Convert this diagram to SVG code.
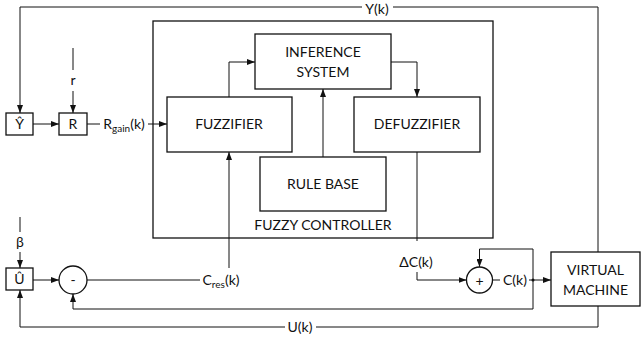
<svg xmlns="http://www.w3.org/2000/svg" width="642" height="339" viewBox="0 0 642 339">
<style>
text{font-family:Lato,"Liberation Sans",sans-serif;font-size:14px;fill:#111;text-anchor:middle}
.box{fill:#fff;stroke:#111;stroke-width:1.3}
.ln{fill:none;stroke:#111;stroke-width:1}
.ar{fill:none;stroke:#111;stroke-width:1;marker-end:url(#ah)}
.sub{font-size:10px}
</style>
<defs>
<marker id="ah" viewBox="0 0 8 6" refX="8" refY="3" markerWidth="8" markerHeight="6" markerUnits="userSpaceOnUse" orient="auto">
<path d="M0,0L8,3L0,6z" fill="#111"/>
</marker>
</defs>
<rect width="642" height="339" fill="#fff"/>
<g id="fuzzy-controller"><rect class="box" x="153" y="21" width="340" height="217" stroke-width="1.5"/><text x="323" y="230">FUZZY CONTROLLER</text></g>
<g id="fuzzifier"><rect class="box" x="167" y="97" width="125" height="55"/><text x="229" y="129">FUZZIFIER</text></g>
<g id="inference"><rect class="box" x="255" y="34" width="136" height="55"/><text x="323" y="57">INFERENCE</text><text x="323" y="77">SYSTEM</text></g>
<g id="defuzzifier"><rect class="box" x="354" y="97" width="126" height="55"/><text x="417" y="129">DEFUZZIFIER</text></g>
<g id="rulebase"><rect class="box" x="260" y="157" width="126" height="54"/><text x="323" y="189">RULE BASE</text></g>
<g id="yhat"><rect class="box" x="6" y="113" width="27" height="22"/><text x="19.5" y="129">Ŷ</text></g>
<g id="r-box"><rect class="box" x="59" y="113" width="28" height="22"/><text x="73" y="129">R</text></g>
<g id="uhat"><rect class="box" x="6" y="268" width="27" height="22"/><text x="19.5" y="284">Û</text></g>
<g id="minus"><circle class="box" cx="73" cy="280" r="14"/><text x="73" y="285" font-size="16">-</text></g>
<g id="plus"><circle class="box" cx="479.5" cy="280" r="13"/><text x="479.5" y="286" font-size="19">+</text></g>
<g id="vm"><rect class="box" x="551" y="252" width="89" height="54"/><text x="595.5" y="275">VIRTUAL</text><text x="595.5" y="295">MACHINE</text></g>
<g id="connectors">
<path class="ar" d="M362,7H20V113"/>
<path class="ln" d="M393,7H598V252"/>
<path class="ln" d="M598,306V327H316"/>
<path class="ar" d="M285,327H20V290"/>
<path class="ln" d="M73,48V70"/>
<path class="ar" d="M73,91V113"/>
<path class="ar" d="M33,124H59"/>
<path class="ln" d="M87,124H100"/>
<path class="ar" d="M148,124H167"/>
<path class="ln" d="M20,217V232"/>
<path class="ar" d="M20,252V268"/>
<path class="ar" d="M33,280H59"/>
<path class="ln" d="M87,280H200"/>
<path class="ar" d="M229,268V152"/>
<path class="ar" d="M229,97V62H255"/>
<path class="ar" d="M391,62H417V97"/>
<path class="ar" d="M323,157V89"/>
<path class="ln" d="M417,152V241"/>
<path class="ar" d="M417,272V280H466.5"/>
<path class="ln" d="M492.5,280H500"/>
<path class="ar" d="M529,280H551"/>
<circle cx="533" cy="280" r="1.5" fill="#111"/>
<path class="ar" d="M533,280V249H479.5V267"/>
<path class="ar" d="M533,280V309H73V294"/>
</g>
<g id="labels">
<text x="377" y="13.5">Y(k)</text>
<text x="300" y="332">U(k)</text>
<text x="73" y="85">r</text>
<text x="20" y="247">β</text>
<text x="124" y="129">R<tspan class="sub" dy="3">gain</tspan><tspan dy="-3">(k)</tspan></text>
<text x="221" y="285">C<tspan class="sub" dy="3">res</tspan><tspan dy="-3">(k)</tspan></text>
<text x="416" y="267">ΔC(k)</text>
<text x="515" y="285">C(k)</text>
</g>
</svg>
